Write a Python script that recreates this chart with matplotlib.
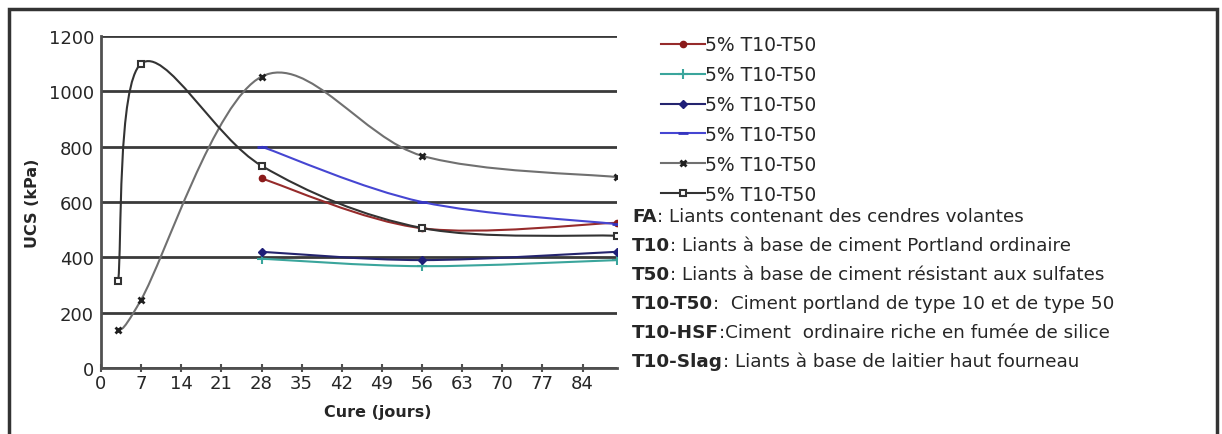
import numpy as np
import matplotlib
matplotlib.use("Agg")
import matplotlib.pyplot as plt
from matplotlib.path import Path
from matplotlib.patches import PathPatch, Rectangle
from matplotlib.lines import Line2D

# data
days_long = [3, 7, 28, 56, 90]
days_short = [28, 56, 90]
ucs_red = [685, 505, 525]
ucs_teal = [395, 368, 390]
ucs_navy = [420, 390, 420]
ucs_blue = [800, 600, 520]
ucs_gray = [138, 247, 1053, 767, 690]
ucs_black = [314, 1100, 731, 506, 478]
legend_label = "5% T10-T50"

x_ticks = list(range(0, 85, 7))
y_ticks = list(range(0, 1201, 200))

note_keys = ["FA", "T10", "T50", "T10-T50", "T10-HSF", "T10-Slag"]
note_texts = [": Liants contenant des cendres volantes",
              ": Liants à base de ciment Portland ordinaire",
              ": Liants à base de ciment résistant aux sulfates",
              ":  Ciment portland de type 10 et de type 50",
              ":Ciment  ordinaire riche en fumée de silice",
              ": Liants à base de laitier haut fourneau"]

plt.rcParams['font.family'] = ['DejaVu Sans']
TXT = '#262626'


def smooth_path(xs, ys):
    """Excel-like smoothed line: cubic bezier through the points."""
    pts = np.column_stack([xs, ys]).astype(float)
    n = len(pts)
    verts = [pts[0]]
    codes = [Path.MOVETO]
    for i in range(n - 1):
        p0 = pts[max(i - 1, 0)]
        p1 = pts[i]
        p2 = pts[i + 1]
        p3 = pts[min(i + 2, n - 1)]
        verts += [p1 + (p2 - p0) / 6, p2 - (p3 - p1) / 6, p2]
        codes += [Path.CURVE4] * 3
    return Path(verts, codes)


fig = plt.figure(figsize=(12.22, 4.35), dpi=100)
ax = fig.add_axes([101 / 1222, 66 / 435, 516 / 1222, 332 / 435])

series = [
    (days_short, ucs_red, '#962b2b', dict(marker='o', ms=4.5, mfc='#8b1a1a', mec='#8b1a1a')),
    (days_short, ucs_teal, '#3aa59c', dict(marker='+', ms=7, mew=1.5, mec='#3aa59c')),
    (days_short, ucs_navy, '#24246e', dict(marker='D', ms=4.5, mfc='#1e1e78', mec='#1e1e78')),
    (days_short, ucs_blue, '#4646d2', dict(marker='_', ms=7, mew=2, mec='#3535c0')),
    (days_long, ucs_gray, '#707070', dict(marker='x', ms=5, mew=2, mec='#202020')),
    (days_long, ucs_black, '#333333', dict(marker='s', ms=5, mew=1.5, mfc='white', mec='#333333')),
]

handles = []
for xs, ys, col, mk in series:
    ax.add_patch(PathPatch(smooth_path(xs, ys), fill=False, edgecolor=col, lw=1.5, zorder=3))
    ax.plot(xs, ys, ls='none', zorder=4, **mk)
    handles.append(Line2D([], [], color=col, lw=1.5, **mk))

ax.set_xlim(0, 90)
ax.set_ylim(0, 1200)
ax.set_xticks(x_ticks)
ax.set_yticks(y_ticks)
ax.yaxis.grid(True, color='#3a3a3a', lw=2)
ax.set_axisbelow(True)
for s in ['top', 'right']:
    ax.spines[s].set_visible(False)
for s in ['left', 'bottom']:
    ax.spines[s].set_color('#505050')
    ax.spines[s].set_linewidth(2)
ax.tick_params(axis='both', labelsize=13, colors='#505050', labelcolor=TXT,
               direction='inout', length=6, width=1.5, pad=1)
ax.tick_params(axis='y', length=0, pad=5)
ax.set_xlabel("Cure (jours)", fontsize=11.5, fontweight='bold', color=TXT)
ax.xaxis.set_label_coords(0.537, -0.108)
ax.set_ylabel("UCS (kPa)", fontsize=11.5, fontweight='bold', color=TXT, labelpad=6)

fig.legend(handles, [legend_label] * 6, loc='upper left',
           bbox_to_anchor=(652 / 1222, 1 - 27 / 435), frameon=False,
           fontsize=13.5, handlelength=2.3, handletextpad=0.02, labelspacing=0.58,
           borderpad=0, labelcolor=TXT)

# notes with bold keys
fig.canvas.draw()
renderer = fig.canvas.get_renderer()
for i, (k, t) in enumerate(zip(note_keys, note_texts)):
    y = 1 - (217 + 29 * i) / 435
    tk = fig.text(632 / 1222, y, k, fontsize=13.2, fontweight='bold', color=TXT, va='center')
    bb = tk.get_window_extent(renderer)
    fig.text(bb.x1 / fig.bbox.width, y, t, fontsize=13.2, color=TXT, va='center')

# outer frame of the picture
fig.patches.append(Rectangle((9 / 1222, -0.05), 1208 / 1222, 1.05 - 10 / 435,
                             transform=fig.transFigure, fill=False,
                             edgecolor='#333333', lw=2.5))

fig.savefig("out.png", dpi=100)
